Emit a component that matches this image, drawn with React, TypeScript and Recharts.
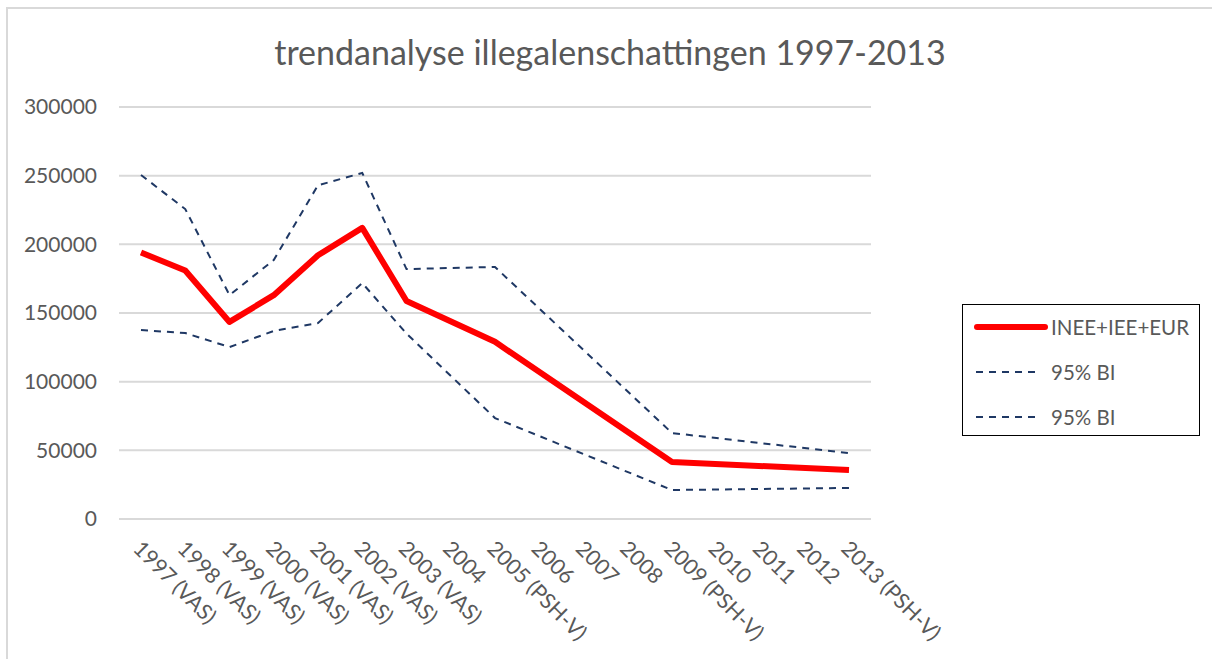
import React from "react";
import { LineChart, Line, XAxis, YAxis, CartesianGrid, Legend } from "recharts";

const categories = [
  "1997 (VAS)", "1998 (VAS)", "1999 (VAS)", "2000 (VAS)", "2001 (VAS)", "2002 (VAS)",
  "2003 (VAS)", "2004", "2005 (PSH-V)", "2006", "2007", "2008", "2009 (PSH-V)",
  "2010", "2011", "2012", "2013 (PSH-V)",
];
const estimate = [194000, 181000, 143500, 163000, 192000, 212000, 158700, null, 129000, null, null, null, 41500, null, null, null, 35700];
const upper = [250500, 225700, 163000, 188600, 243000, 252000, 182000, null, 183500, null, null, null, 62600, null, null, null, 48000];
const lower = [137600, 135400, 125200, 136900, 142700, 171800, 135000, null, 73500, null, null, null, 21100, null, null, null, 22600];
const yTicks = [0, 50000, 100000, 150000, 200000, 250000, 300000];

const seriesNames = ["INEE+IEE+EUR", "95% BI", "95% BI"];
const title = "trendanalyse illegalenschattingen 1997-2013";

const data = categories.map((c, i) => ({
  cat: c,
  est: estimate[i],
  up: upper[i],
  lo: lower[i],
}));

const FONT = "Lato, 'Noto Sans', sans-serif";
const TXT = "#595959";
const NAVY = "#1f3864";

const XTick = (props: any) => {
  const { x, payload } = props;
  return (
    <g transform={`translate(${x - 9},${550})`}>
      <text transform="rotate(45)" textAnchor="start" fill={TXT} fontSize={21.5} fontFamily={FONT}>
        {payload.value}
      </text>
    </g>
  );
};

const LegendBox = () => (
  <div
    style={{
      width: 238,
      height: 132,
      border: "1.5px solid #000",
      background: "#fff",
      fontFamily: FONT,
      fontSize: 20.5,
      color: TXT,
      position: "relative",
      boxSizing: "border-box",
    }}
  >
    {seriesNames.map((n, i) => (
      <div key={i} style={{ position: "absolute", left: 0, top: 22 + i * 45 - 16, height: 32, display: "flex", alignItems: "center" }}>
        <svg width={88} height={32} style={{ display: "block" }}>
          {i === 0 ? (
            <line x1={14} y1={16} x2={82} y2={16} stroke="#ff0000" strokeWidth={6} strokeLinecap="round" />
          ) : (
            <line x1={13} y1={16} x2={76} y2={16} stroke={NAVY} strokeWidth={2} strokeDasharray="7 6" />
          )}
        </svg>
        <span style={{ whiteSpace: "nowrap" }}>{n}</span>
      </div>
    ))}
  </div>
);

export default function App() {
  return (
    <div style={{ position: "absolute", left: 0, top: 0, width: 1212, height: 659, background: "#fff", overflow: "hidden" }}>
      <div
        style={{
          position: "absolute",
          left: 6,
          top: 7,
          width: 1220,
          height: 670,
          borderLeft: "2px solid #d9d9d9",
          borderTop: "2px solid #d9d9d9",
        }}
      />
      <div
        style={{
          position: "absolute",
          left: 0,
          top: 29,
          width: 1220,
          textAlign: "center",
          fontFamily: FONT,
          fontSize: 34,
          color: TXT,
          lineHeight: "46px",
        }}
      >
        {title}
      </div>
      <div style={{ position: "absolute", left: 0, top: 0 }}>
        <LineChart width={1212} height={659} data={data} margin={{ top: 107, right: 341, bottom: 0, left: 0 }}>
          <CartesianGrid vertical={false} stroke="#d9d9d9" strokeWidth={2} />
          <XAxis
            dataKey="cat"
            interval={0}
            height={140}
            padding={{ left: 22, right: 22 }}
            axisLine={{ stroke: "#d9d9d9", strokeWidth: 2 }}
            tickLine={false}
            tick={<XTick />}
          />
          <YAxis
            width={119}
            domain={[0, 300000]}
            ticks={yTicks}
            interval={0}
            axisLine={false}
            tickLine={false}
            tickSize={0}
            tickMargin={22}
            tick={{ fill: TXT, fontSize: 21, fontFamily: FONT }}
          />
          <Line dataKey="up" name={seriesNames[1]} stroke={NAVY} strokeWidth={2} strokeDasharray="7 6" dot={false} connectNulls isAnimationActive={false} />
          <Line dataKey="lo" name={seriesNames[2]} stroke={NAVY} strokeWidth={2} strokeDasharray="7 6" dot={false} connectNulls isAnimationActive={false} />
          <Line dataKey="est" name={seriesNames[0]} stroke="#ff0000" strokeWidth={6} strokeLinejoin="round" dot={false} connectNulls isAnimationActive={false} />
          <Legend
            layout="horizontal"
            verticalAlign="middle"
            align="center"
            content={<LegendBox />}
            wrapperStyle={{ position: "absolute", left: 962, top: 304, width: 238, height: 132 }}
          />
        </LineChart>
      </div>
    </div>
  );
}
